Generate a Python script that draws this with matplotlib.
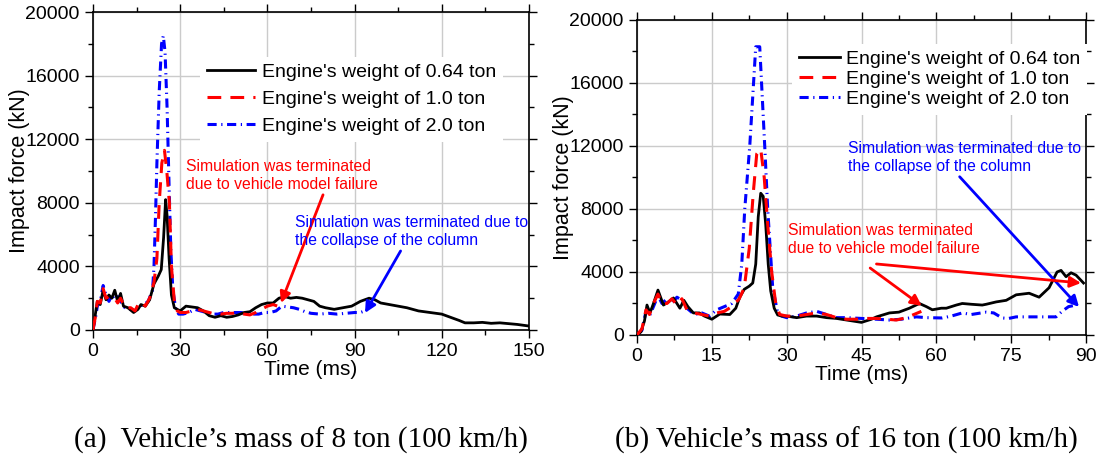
import matplotlib
matplotlib.use("Agg")
from matplotlib import pyplot as plt
from matplotlib.ticker import MultipleLocator

plt.rcParams['font.family'] = ['Liberation Sans', 'DejaVu Sans']

# ---- (a) vehicle 8 ton ----
t_a_064 = [0, 1, 1.5, 2.5, 3.5, 4.5, 5.5, 6.5, 7.5, 8.5, 9.5, 10.5, 12, 14, 15.5, 16.5, 18, 19.5,
           21, 22.5, 23.5, 24.3, 25, 25.5, 26.2, 27, 28, 29, 30, 32, 34, 36, 38, 40, 42, 44, 46,
           48, 50, 52, 54, 56, 58, 60, 62, 64, 66, 68, 70, 72, 74, 76, 78, 80, 83, 86, 89, 92,
           95, 97, 99, 102, 105, 108, 112, 116, 120, 123, 126, 128, 131, 134, 137, 140, 143, 146, 150]
f_a_064 = [0, 1200, 1800, 1600, 2500, 1900, 2200, 2000, 2500, 1800, 2300, 1500, 1400, 1100, 1300,
           1600, 1500, 1900, 2900, 3400, 3800, 5800, 8200, 7200, 4500, 2200, 1400, 1300, 1200, 1500,
           1450, 1400, 1200, 900, 800, 900, 800, 850, 950, 1100, 1150, 1400, 1600, 1700, 1700, 2000,
           2100, 2000, 2050, 2000, 1900, 1800, 1500, 1400, 1300, 1400, 1500, 1800, 2000, 1900, 1700,
           1600, 1500, 1400, 1200, 1100, 1000, 800, 600, 450, 450, 480, 420, 450, 400, 350, 250]

t_a_10 = [0, 1, 1.5, 2.5, 3.5, 4.5, 5.5, 6.5, 7.5, 8.5, 9.5, 11, 13, 14.5, 15.5, 16.5, 18, 19.5,
          21, 22, 22.8, 23.7, 24.6, 25.4, 26.3, 27, 28, 29, 30, 32, 34, 36, 38, 40, 42, 44, 46,
          48, 50, 52, 54, 56, 58, 60, 62, 63.5]
f_a_10 = [0, 1000, 1800, 1700, 2600, 2000, 2100, 2100, 2000, 1700, 2000, 1400, 1400, 1200, 1600,
          1800, 1500, 2000, 3000, 4500, 8000, 10500, 11300, 10000, 8000, 4000, 1800, 1200, 1100,
          1100, 1200, 1300, 1200, 1100, 1000, 1000, 1050, 1050, 1100, 1000, 950, 1100, 1300, 1500,
          1600, 1500]

t_a_20 = [0, 1, 1.5, 2.5, 3.5, 4.5, 5.5, 6.5, 7.5, 8.5, 9.5, 11, 13, 14.5, 16, 17.5, 19, 20.5,
          21, 21.5, 22, 22.8, 23.6, 24.2, 24.8, 25.5, 26.2, 26.8, 27.5, 28.5, 29.5, 31, 33, 35,
          37, 39, 41, 43, 45, 47, 49, 51, 53, 55, 57, 59, 61, 63, 65, 67, 69, 71, 73, 75, 78, 81,
          84, 87, 90, 92, 93.5]
f_a_20 = [0, 900, 1500, 1800, 2800, 2200, 1800, 2200, 1900, 2100, 1800, 1400, 1300, 1200, 1500,
          1600, 1800, 2500, 4000, 7000, 10500, 15000, 18000, 18500, 17500, 14000, 9000, 5000,
          2500, 1300, 1000, 1000, 1100, 1300, 1200, 1100, 1000, 1000, 1100, 1100, 1100, 1100,
          1000, 1000, 1000, 1100, 1100, 1200, 1500, 1450, 1400, 1300, 1150, 1050, 1000, 1050,
          1000, 1050, 1100, 1100, 1200]

# ---- (b) vehicle 16 ton ----
t_b_064 = [0, 0.8, 1.5, 2, 2.6, 3.3, 4.2, 5.3, 6.3, 7.3, 8.6, 9.4, 10.2, 11.3, 12.5, 13.5, 15,
           16.6, 18.6, 19.8, 20.6, 21.5, 22.5, 23.2, 23.8, 24.3, 24.8, 25.3, 25.8, 26.3, 26.8,
           27.5, 28.2, 29, 30, 32, 34, 36, 38, 40, 42, 44, 45, 47, 48, 50.6, 52.5, 54.6, 56.6,
           58, 59.2, 61, 62, 64, 65.2, 67, 69.2, 70, 72, 74, 76, 78.6, 80.6, 82.6, 84.2, 85, 86,
           87, 88, 89.5]
f_b_064 = [0, 200, 900, 1900, 1400, 2000, 2850, 1900, 2100, 2350, 1700, 2200, 1800, 1400, 1400,
           1200, 1000, 1330, 1300, 1700, 2400, 2900, 3100, 3300, 4500, 7500, 9000, 8800, 7000,
           4500, 2800, 1700, 1270, 1200, 1200, 1100, 1200, 1200, 1100, 1050, 950, 850, 800, 1000,
           1150, 1400, 1450, 1700, 2000, 1800, 1600, 1700, 1700, 1900, 2000, 1950, 1900, 1950,
           2100, 2200, 2550, 2650, 2400, 3000, 4000, 4100, 3700, 3950, 3800, 3300]

t_b_10 = [0, 1, 1.8, 2.5, 3.3, 4.2, 5, 6, 7, 8, 9, 10, 11.5, 13, 14.5, 16, 17.5, 19, 20.5,
          21.5, 22.5, 23.3, 24, 24.8, 25.5, 26.2, 27, 27.8, 28.6, 30, 32, 34, 36, 38, 40, 42,
          44, 46, 48, 50, 52, 54, 55.5, 57]
f_b_10 = [0, 400, 1600, 1300, 2000, 2600, 2000, 2000, 2300, 1900, 2300, 1600, 1400, 1300, 1200,
          1400, 1500, 1800, 2300, 3000, 5500, 9000, 11500, 11800, 10000, 7000, 4000, 2000, 1300,
          1200, 1200, 1300, 1400, 1300, 1100, 1000, 1000, 1050, 1050, 1000, 950, 1100, 1300, 1500]

t_b_20 = [0, 1, 1.8, 2.5, 3.3, 4.2, 5, 6, 7, 8, 9, 10, 11.5, 13, 14.5, 16, 17.5, 19, 20.3, 21,
          21.6, 22.6, 23.8, 24.6, 25.6, 26.2, 27.2, 28.2, 29, 30, 32, 34, 36, 38, 40, 42, 45,
          48, 50.6, 53, 56, 58, 61.2, 63, 65.2, 67, 70, 71.5, 73.2, 74.5, 76, 80, 84, 85.2,
          86.5, 88]
f_b_20 = [0, 300, 1500, 1200, 1800, 2500, 2000, 2300, 2000, 2400, 2200, 1700, 1300, 1400, 1200,
          1600, 1800, 2000, 2600, 4500, 8000, 12000, 18300, 18300, 12000, 8000, 3000, 1400, 1200,
          1100, 1200, 1400, 1500, 1300, 1100, 1100, 1050, 1000, 950, 1000, 1150, 1100, 1080, 1200,
          1400, 1300, 1450, 1400, 1080, 1050, 1150, 1150, 1150, 1500, 1800, 1900]

labels = ["Engine's weight of 0.64 ton", "Engine's weight of 1.0 ton", "Engine's weight of 2.0 ton"]
captions = ["(a)  Vehicle\u2019s mass of 8 ton (100 km/h)", "(b) Vehicle\u2019s mass of 16 ton (100 km/h)"]
note_red = "Simulation was terminated\ndue to vehicle model failure"
note_blue = "Simulation was terminated due to\nthe collapse of the column"

RED_LS = (0, (4.5, 3))
BLUE_LS = (0, (3, 1.5, 0.4, 1.5))


def setup_axes(ax, xmax, xmajor):
    ax.set_xlim(0, xmax)
    ax.set_ylim(0, 20000)
    ax.xaxis.set_major_locator(MultipleLocator(xmajor))
    ax.xaxis.set_minor_locator(MultipleLocator(xmajor / 2))
    ax.yaxis.set_major_locator(MultipleLocator(4000))
    ax.yaxis.set_minor_locator(MultipleLocator(2000))
    ax.grid(True, which='major', color='#cbcbcb', lw=1.0, zorder=0)
    ax.tick_params(which='both', top=True, right=True, labelsize=14, width=1.0)
    ax.tick_params(which='major', length=6)
    ax.tick_params(which='minor', length=3.5)
    for sp in ax.spines.values():
        sp.set_linewidth(1.2)
    ax.set_xlabel("Time (ms)", fontsize=15, labelpad=0)
    ax.set_ylabel("Impact force (kN)", fontsize=15.5, labelpad=-3)


def draw_lines(ax, t1, f1, t2, f2, t3, f3):
    ax.plot(t1, f1, color='black', lw=2.0, label=labels[0], zorder=3)
    ax.plot(t2, f2, color='red', lw=2.2, ls=RED_LS, label=labels[1], zorder=4)
    ax.plot(t3, f3, color='blue', lw=2.2, ls=BLUE_LS, label=labels[2], zorder=2)


fig = plt.figure(figsize=(11.04, 4.57), dpi=100)
ax1 = fig.add_axes([0.0842, 0.2779, 0.3949, 0.6958])
ax2 = fig.add_axes([0.5770, 0.2670, 0.4067, 0.6893])

# panel (a)
draw_lines(ax1, t_a_064, f_a_064, t_a_10, f_a_10, t_a_20, f_a_20)
setup_axes(ax1, 150, 30)
leg = ax1.legend(loc='upper left', bbox_to_anchor=(0.245, 0.86), fontsize=14, frameon=True,
                 fancybox=False, edgecolor='none', framealpha=1, borderpad=0.35,
                 handlelength=2.5, handletextpad=0.35, labelspacing=0.48, borderaxespad=0)
leg.set_zorder(5)
ax1.annotate(note_red, xy=(64.7, 1700), xytext=(32, 9716), color='red', fontsize=11.3,
             ha='left', va='center', linespacing=1.25,
             arrowprops=dict(arrowstyle='-|>', color='red', lw=2, mutation_scale=16,
                             shrinkA=0, shrinkB=0, relpos=(0.72, 0.0)), zorder=6)
ax1.annotate(note_blue, xy=(93.6, 1073), xytext=(69.5, 6183), color='blue', fontsize=11.3,
             ha='left', va='center', linespacing=1.25,
             arrowprops=dict(arrowstyle='-|>', color='blue', lw=2, mutation_scale=16,
                             shrinkA=0, shrinkB=0, relpos=(0.46, 0.0)), zorder=6)

# panel (b)
draw_lines(ax2, t_b_064, f_b_064, t_b_10, f_b_10, t_b_20, f_b_20)
setup_axes(ax2, 90, 15)
leg = ax2.legend(loc='upper left', bbox_to_anchor=(0.345, 0.925), fontsize=14, frameon=True,
                 fancybox=False, edgecolor='none', framealpha=1, borderpad=0.35,
                 handlelength=2.1, handletextpad=0.35, labelspacing=0.12, borderaxespad=0)
leg.set_zorder(5)
ax2.annotate(note_blue, xy=(88.6, 1778), xytext=(42.2, 11270), color='blue', fontsize=11.3,
             ha='left', va='center', linespacing=1.25,
             arrowprops=dict(arrowstyle='-|>', color='blue', lw=2, mutation_scale=16,
                             shrinkA=0, shrinkB=0, relpos=(0.47, 0.0)), zorder=6)
ax2.annotate(note_red, xy=(58.2, 1587), xytext=(30.2, 6032), color='red', fontsize=11.3,
             ha='left', va='center', linespacing=1.25,
             arrowprops=dict(arrowstyle='-|>', color='red', lw=2, mutation_scale=16,
                             shrinkA=0, shrinkB=5, relpos=(0.43, -0.35)), zorder=6)
ax2.annotate('', xy=(89.0, 3300), xytext=(48.0, 4508),
             arrowprops=dict(arrowstyle='-|>', color='red', lw=2, mutation_scale=16,
                             shrinkA=0, shrinkB=0), zorder=6)

# captions under the panels
fig.text(0.273, 0.02, captions[0], fontsize=21, family=['Liberation Serif', 'DejaVu Serif'],
         ha='center', va='baseline')
fig.text(0.767, 0.02, captions[1], fontsize=21, family=['Liberation Serif', 'DejaVu Serif'],
         ha='center', va='baseline')

fig.savefig('out.png', dpi=100)
